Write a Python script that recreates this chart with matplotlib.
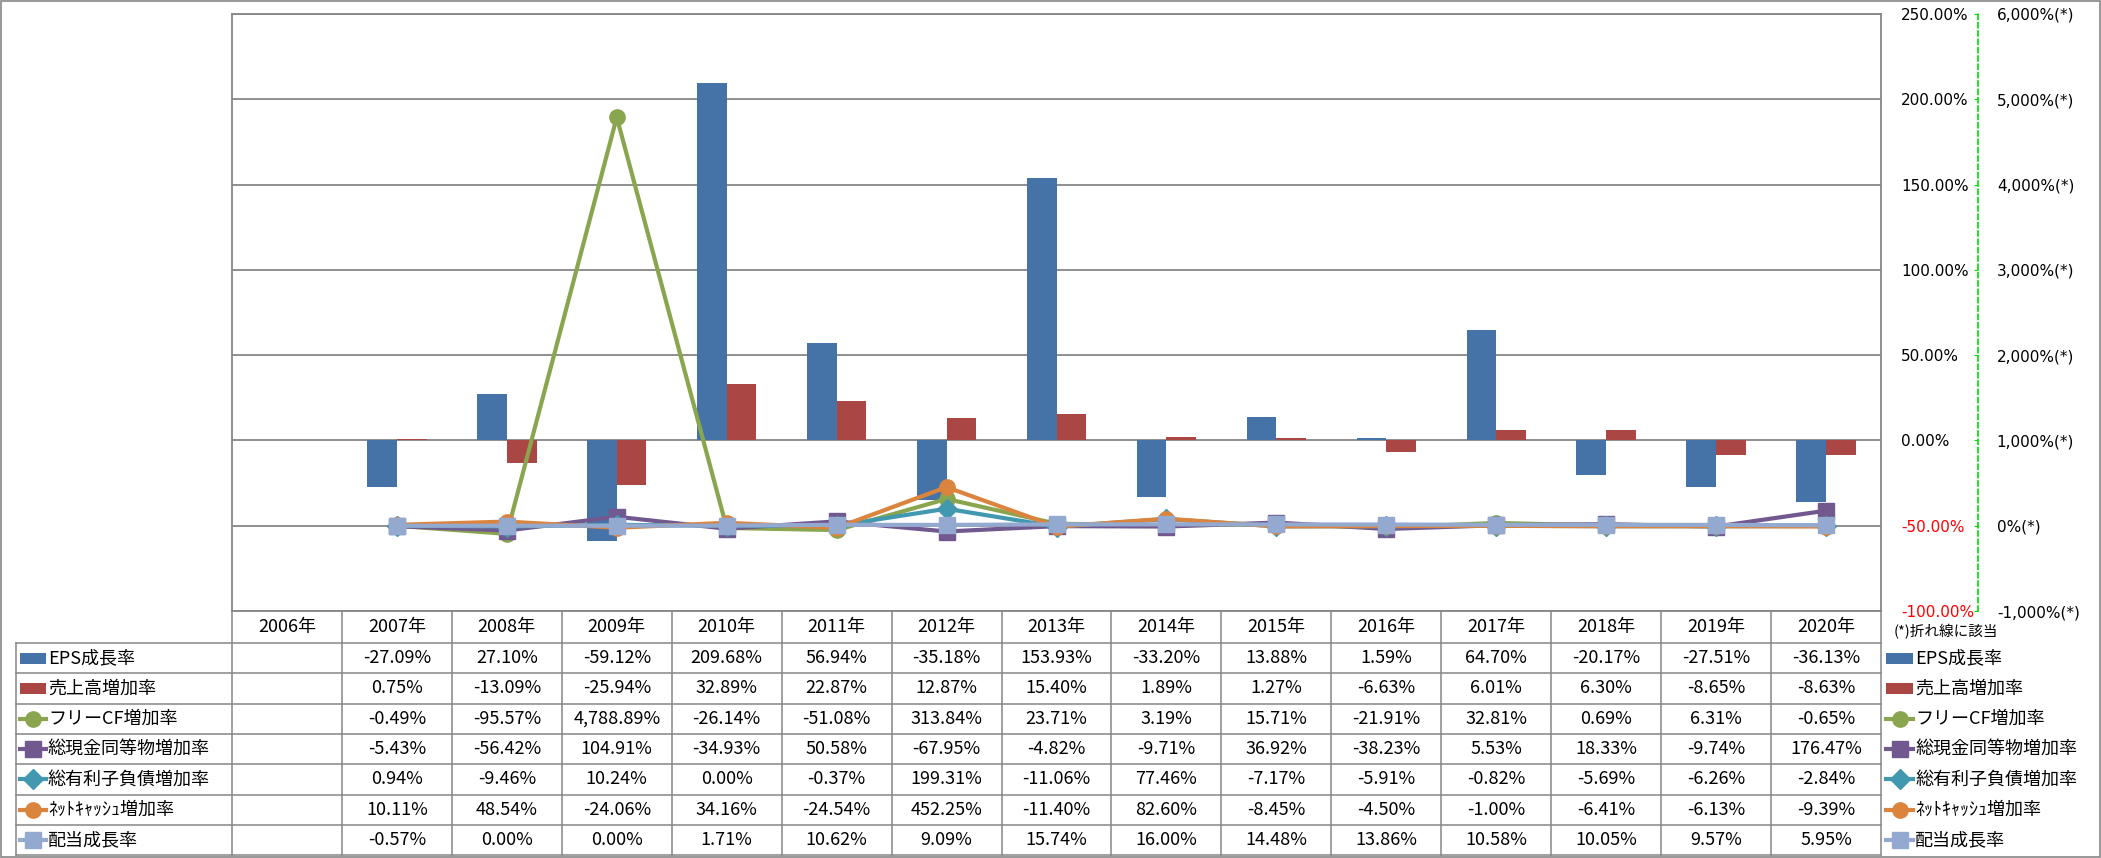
import numpy as np
import matplotlib
matplotlib.use("Agg")
import matplotlib.pyplot as plt
from matplotlib.lines import Line2D
from matplotlib.patches import Rectangle

# ---- data (growth rates in %) ----
years = ["2006年", "2007年", "2008年", "2009年", "2010年", "2011年", "2012年", "2013年",
         "2014年", "2015年", "2016年", "2017年", "2018年", "2019年", "2020年"]
nan = np.nan
eps_growth = [nan, -27.09, 27.10, -59.12, 209.68, 56.94, -35.18, 153.93, -33.20, 13.88, 1.59, 64.70, -20.17, -27.51, -36.13]
sales_growth = [nan, 0.75, -13.09, -25.94, 32.89, 22.87, 12.87, 15.40, 1.89, 1.27, -6.63, 6.01, 6.30, -8.65, -8.63]
fcf_growth = [nan, -0.49, -95.57, 4788.89, -26.14, -51.08, 313.84, 23.71, 3.19, 15.71, -21.91, 32.81, 0.69, 6.31, -0.65]
cash_growth = [nan, -5.43, -56.42, 104.91, -34.93, 50.58, -67.95, -4.82, -9.71, 36.92, -38.23, 5.53, 18.33, -9.74, 176.47]
debt_growth = [nan, 0.94, -9.46, 10.24, 0.00, -0.37, 199.31, -11.06, 77.46, -7.17, -5.91, -0.82, -5.69, -6.26, -2.84]
netcash_growth = [nan, 10.11, 48.54, -24.06, 34.16, -24.54, 452.25, -11.40, 82.60, -8.45, -4.50, -1.00, -6.41, -6.13, -9.39]
div_growth = [nan, -0.57, 0.00, 0.00, 1.71, 10.62, 9.09, 15.74, 16.00, 14.48, 13.86, 10.58, 10.05, 9.57, 5.95]

bar_names = ["EPS成長率", "売上高増加率"]
line_names = ["フリーCF増加率", "総現金同等物増加率", "総有利子負債増加率", "ﾈｯﾄｷｬｯｼｭ増加率", "配当成長率"]

# ---- styles ----
bar_colors = ["#4572A7", "#AA4643"]
line_colors = ["#89A54E", "#71588F", "#4198AF", "#DB843D", "#93A9CF"]
line_markers = ["o", "s", "D", "o", "s"]
grid_gray = "#868686"
JP = ["Noto Sans CJK JP", "DejaVu Sans"]

plt.rcParams['font.family'] = ["DejaVu Sans", "Noto Sans CJK JP"]

W, H, DPI = 2101, 858, 100
fig = plt.figure(figsize=(W / DPI, H / DPI), dpi=DPI)

# layout in pixels
x_left, x_right = 232, 1881
y_top, y_bottom = 14, 611
ax = fig.add_axes([x_left / W, 1 - y_bottom / H, (x_right - x_left) / W, (y_bottom - y_top) / H])

x = np.arange(len(years))
bw = 0.27
ax.bar(x - bw / 2, eps_growth, bw, color=bar_colors[0], zorder=2)
ax.bar(x + bw / 2, sales_growth, bw, color=bar_colors[1], zorder=2)
ax.set_xlim(-0.5, len(years) - 0.5)
ax.set_ylim(-100, 250)
prim_ticks = np.arange(-100, 251, 50)
ax.set_yticks(prim_ticks)
ax.set_yticklabels([f"{v:.2f}%" for v in prim_ticks])
ax.set_xticks([])
ax.yaxis.grid(True, color=grid_gray, lw=1.3, zorder=0)
ax.set_axisbelow(True)
for s in ["left", "right", "bottom", "top"]:
    ax.spines[s].set_color(grid_gray)
    ax.spines[s].set_linewidth(1.3)

# secondary axis for the lines
ax2 = ax.twinx()
ax2.set_ylim(-1000, 6000)
sec_ticks = np.arange(-1000, 6001, 1000)
ax2.set_yticks(sec_ticks)
ax2.set_yticklabels([f"{v:,.0f}%(*)" for v in sec_ticks])
ax2.get_yticklabels()[0].set_color("red")
ax2.spines["right"].set_position(("outward", 97 * 72 / DPI))
ax2.spines["right"].set_color("#00DD00")
ax2.spines["right"].set_linestyle((0, (3, 2)))
ax2.spines["right"].set_linewidth(1.2)
for s in ["left", "bottom", "top"]:
    ax2.spines[s].set_visible(False)
ax2.tick_params(axis="y", direction="in", length=3, color="#00DD00", pad=13.5, labelsize=11)

# primary labels go to the right side (twinx pushed them left)
ax.yaxis.tick_right()
ax.tick_params(axis="y", length=0, pad=14.4, labelsize=11, labelright=True, labelleft=False)
for lab, v in zip(ax.get_yticklabels(), prim_ticks):
    if v < 0:
        lab.set_color("red")

line_data = [fcf_growth, cash_growth, debt_growth, netcash_growth, div_growth]
for k, (vals, c, m) in enumerate(zip(line_data, line_colors, line_markers)):
    ms = 11 if m != "D" else 10
    ax2.plot(x, vals, color=c, lw=3, marker=m, ms=ms, mec=c, mfc=c, zorder=3 + k)

# ---- data table and legend drawn in pixel coordinates ----
tab = fig.add_axes([0, 0, 1, 1], facecolor="none")
tab.set_xlim(0, W)
tab.set_ylim(H, 0)
tab.axis("off")

col_w = (x_right - x_left) / len(years)
hdr_bottom = 643
row_h = 30.3
n_rows = 7
tbl_bottom = hdr_bottom + row_h * n_rows
lab_left = 16

for r in range(n_rows + 1):
    yy = hdr_bottom + r * row_h
    tab.plot([lab_left, x_right], [yy, yy], color=grid_gray, lw=1.1)
for c in range(len(years) + 1):
    xx = x_left + c * col_w
    tab.plot([xx, xx], [y_bottom, tbl_bottom], color=grid_gray, lw=1.1)
tab.plot([lab_left, lab_left], [hdr_bottom, tbl_bottom], color=grid_gray, lw=1.1)

for c, yr in enumerate(years):
    tab.text(x_left + (c + 0.5) * col_w, (y_bottom + hdr_bottom) / 2, yr,
             ha="center", va="center", fontsize=13, family=JP)

all_names = bar_names + line_names
all_data = [eps_growth, sales_growth] + line_data


def draw_key(ax_, i, x0, x1, yc):
    if i < 2:
        ax_.add_patch(Rectangle((x0, yc - 5.5), x1 - x0, 11, color=bar_colors[i], lw=0))
    else:
        j = i - 2
        m = line_markers[j]
        ax_.add_line(Line2D([x0, x1], [yc, yc], color=line_colors[j], lw=3))
        ax_.plot([(x0 + x1) / 2], [yc], marker=m, ms=11 if m != "D" else 10,
                 color=line_colors[j], lw=0)


for r, (name, vals) in enumerate(zip(all_names, all_data)):
    yc = hdr_bottom + (r + 0.5) * row_h
    draw_key(tab, r, 20, 46, yc)
    tab.text(48, yc, name, ha="left", va="center", fontsize=13, family=JP)
    for c, v in enumerate(vals):
        if np.isnan(v):
            continue
        tab.text(x_left + (c + 0.5) * col_w, yc, f"{v:,.2f}%",
                 ha="center", va="center", fontsize=13, family=JP)
    # right side legend
    draw_key(tab, r, 1886, 1913, yc)
    tab.text(1915, yc, name, ha="left", va="center", fontsize=13, family=JP)

tab.text(1894, 632, "(*)折れ線に該当", ha="left", va="center", fontsize=10.5, family=JP)

# chart border
tab.add_patch(Rectangle((0.5, 0.5), W - 1.5, H - 1.5, fill=False, ec=grid_gray, lw=1.2))

fig.savefig("out.png", dpi=DPI)
